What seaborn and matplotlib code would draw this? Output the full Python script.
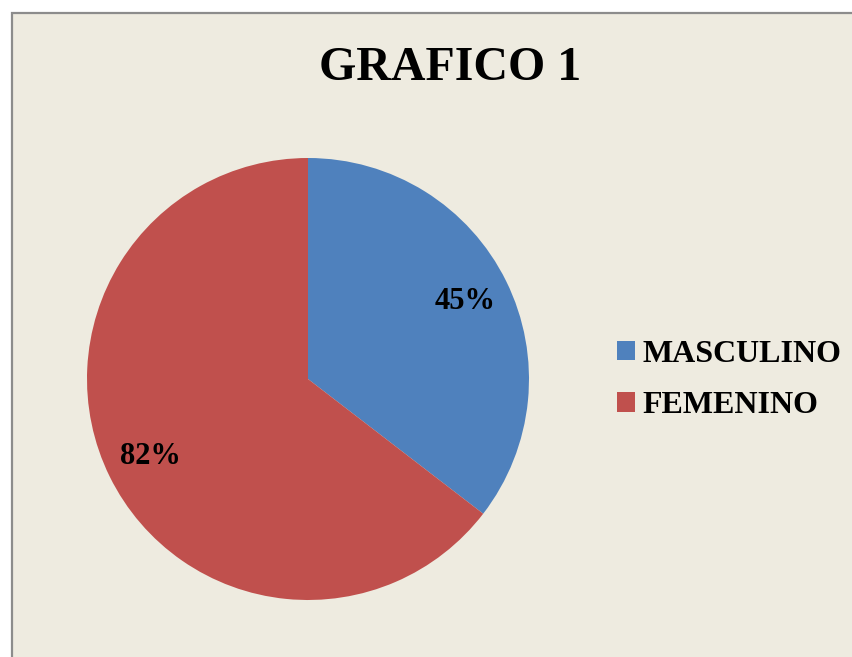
import seaborn as sns
import matplotlib.pyplot as plt
from matplotlib.patches import Rectangle

# data
categories = ['MASCULINO', 'FEMENINO']
values = [45, 82]
colors = ['#4F81BD', '#C0504D']
title = 'GRAFICO 1'

sns.set_style('white')
plt.rcParams['font.family'] = ['Liberation Serif', 'DejaVu Serif']
plt.rcParams['font.weight'] = 'bold'
plt.rcParams['text.color'] = 'black'

fig = plt.figure(figsize=(8.52, 6.57), dpi=100)
fig.patch.set_facecolor('white')

# beige chart area with gray border (only top/left visible)
bg = Rectangle((12 / 852, -0.05), 1.1, 0.98 + 0.05, transform=fig.transFigure,
               facecolor='#EEEBE0', edgecolor='#8C8C8C', linewidth=1.6, zorder=-10)
fig.patches.append(bg)

ax = fig.add_axes([87 / 852, 57 / 657, 442 / 852, 442 / 657])
ax.set_facecolor('none')

total = sum(values)
wedges, texts, autotexts = ax.pie(
    values, colors=sns.color_palette(colors), startangle=90, counterclock=False,
    autopct=lambda p: f'{p * total / 100:.0f}%', pctdistance=0.795,
    wedgeprops={'linewidth': 0},
    textprops={'fontsize': 22, 'fontweight': 'bold', 'color': 'black'})
ax.set_xlim(-1, 1)
ax.set_ylim(-1, 1)
ax.set_aspect('equal')

fig.text(450 / 852, 1 - 68 / 657, title, ha='center', va='center',
         fontsize=34.5, fontweight='bold', color='black')

leg = fig.legend(wedges, categories, loc='center left',
                 bbox_to_anchor=(617 / 852, 1 - 380 / 657), frameon=False,
                 fontsize=23, handlelength=0.55, handleheight=0.55,
                 handletextpad=0.25, labelspacing=0.7, borderpad=0, borderaxespad=0)
for t in leg.get_texts():
    t.set_color('black')

fig.savefig('out.png', dpi=100)
